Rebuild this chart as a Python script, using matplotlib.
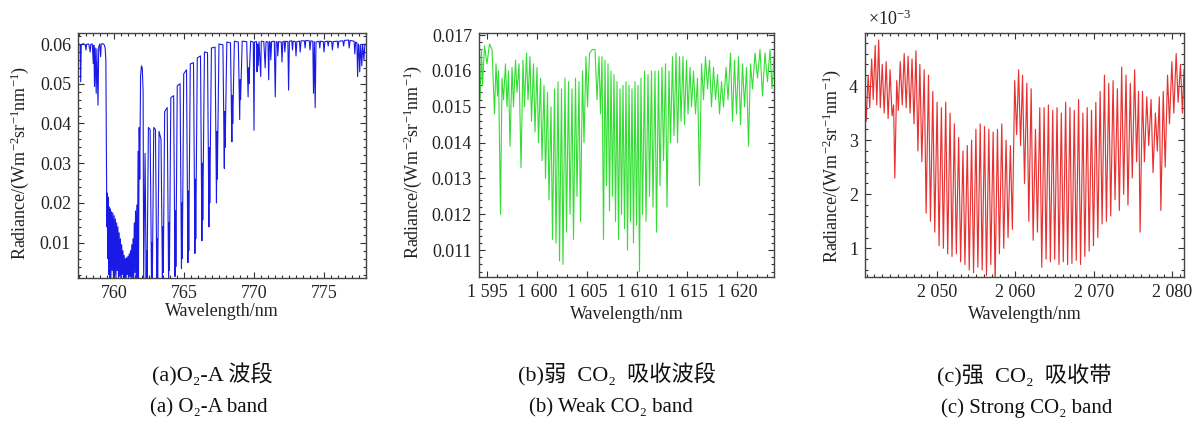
import matplotlib
matplotlib.use("Agg")
import matplotlib.pyplot as plt
from matplotlib.ticker import FixedLocator, MultipleLocator

plt.rcParams['font.family'] = ['Liberation Serif', 'Noto Sans CJK SC', 'DejaVu Sans']
plt.rcParams['mathtext.fontset'] = 'custom'
plt.rcParams['mathtext.rm'] = 'Liberation Serif'
plt.rcParams['mathtext.it'] = 'Liberation Serif:italic'
plt.rcParams['mathtext.bf'] = 'Liberation Serif:bold'
plt.rcParams['axes.unicode_minus'] = False

# ---------------- O2-A band (757-778 nm) ----------------
wl_o2 = [
    757.43, 757.50, 757.58, 757.62, 757.66, 757.80, 757.95, 758.00, 758.04, 758.20,
    758.30, 758.34, 758.45, 758.52, 758.56, 758.61, 758.66, 758.73, 758.78, 758.86,
    758.91, 758.98, 759.05, 759.09, 759.20, 759.30, 759.37, 759.42,
    759.46, 759.49, 759.52, 759.55, 759.58, 759.62, 759.66, 759.70,
    759.74, 759.78, 759.83, 759.87, 759.92, 759.96, 760.01, 760.05, 760.10, 760.14,
    760.19, 760.23, 760.28, 760.32, 760.37, 760.41, 760.46, 760.50, 760.55, 760.59,
    760.64, 760.68, 760.73, 760.77, 760.82, 760.86, 760.91, 760.95, 761.00, 761.04,
    761.09, 761.13, 761.18, 761.22, 761.27, 761.31, 761.36, 761.40, 761.45, 761.49,
    761.54, 761.58, 761.63, 761.67, 761.72, 761.75, 761.80, 761.84, 761.90, 761.96,
    762.02, 762.08, 762.12,
    762.22, 762.30, 762.33, 762.36, 762.46, 762.58, 762.68, 762.71, 762.74,
    762.84, 762.96, 763.06, 763.09, 763.12, 763.22, 763.36, 763.46, 763.49, 763.52,
    763.62, 763.80, 763.90, 763.93, 763.96, 764.06, 764.26, 764.36, 764.39, 764.42,
    764.52, 764.72, 764.82, 764.85, 764.88, 764.98, 765.18, 765.28, 765.31, 765.34,
    765.45, 765.68, 765.78, 765.81, 765.84, 765.95, 766.18, 766.28, 766.31, 766.34,
    766.46, 766.68, 766.78, 766.81, 766.84, 766.96, 767.22, 767.32, 767.35, 767.38,
    767.50, 767.78, 767.88, 767.91, 767.94, 768.06, 768.32, 768.42, 768.45, 768.48,
    768.60, 768.88, 768.98, 769.01, 769.04, 769.16, 769.48, 769.58, 769.61, 769.64,
    769.76, 769.95, 770.00, 770.04, 770.18, 770.22, 770.26, 770.30, 770.36, 770.48,
    770.52, 770.70, 770.80, 770.86, 771.00, 771.05, 771.10, 771.16, 771.20, 771.26,
    771.45, 771.52, 771.58, 771.66, 771.70, 771.76, 771.95, 772.00, 772.06, 772.16,
    772.20, 772.26, 772.42, 772.47, 772.53, 772.70, 772.75, 772.80, 772.95, 773.00,
    773.06, 773.25, 773.30, 773.36, 773.60, 773.65, 773.70, 773.95, 774.00, 774.06,
    774.20, 774.25, 774.31, 774.37, 774.43, 774.65, 774.70, 774.75, 774.95, 775.00,
    775.06, 775.25, 775.30, 775.35, 775.55, 775.60, 775.66, 775.95, 776.00, 776.06,
    776.35, 776.40, 776.46, 776.75, 776.80, 776.86, 777.15, 777.20, 777.26, 777.35,
    777.40, 777.46, 777.50, 777.55, 777.62, 777.70, 777.76, 777.85, 777.92, 778.00,
]
rad_o2 = [
    0.0598, 0.0600, 0.0598, 0.0505, 0.0597, 0.0601, 0.0598, 0.0585, 0.0599, 0.0600,
    0.0580, 0.0599, 0.0600, 0.0551, 0.0597, 0.0493, 0.0590, 0.0476, 0.0588, 0.0446,
    0.0592, 0.0600, 0.0568, 0.0600, 0.0601, 0.0598, 0.0590, 0.0560,
    0.0300, 0.0140, 0.0225, 0.0060, 0.0215, 0.0020, 0.0190, 0.0005,
    0.0185, 0.0010, 0.0178, 0.0030, 0.0175, 0.0005, 0.0168, 0.0020, 0.0160, 0.0005,
    0.0150, 0.0030, 0.0140, 0.0005, 0.0125, 0.0015, 0.0110, 0.0005, 0.0095, 0.0020,
    0.0080, 0.0005, 0.0068, 0.0010, 0.0060, 0.0005, 0.0062, 0.0020, 0.0066, 0.0005,
    0.0072, 0.0015, 0.0080, 0.0005, 0.0095, 0.0010, 0.0110, 0.0005, 0.0150, 0.0025,
    0.0180, 0.0005, 0.0195, 0.0010, 0.0330, 0.0005, 0.0390, 0.0260, 0.0520, 0.0545,
    0.0540, 0.0480, 0.0005,
    0.0325, 0.0005, 0.0080, 0.0008, 0.0390, 0.0385, 0.0005, 0.0100, 0.0008,
    0.0390, 0.0385, 0.0005, 0.0110, 0.0010, 0.0380, 0.0360, 0.0005, 0.0140, 0.0025,
    0.0430, 0.0440, 0.0005, 0.0150, 0.0030, 0.0465, 0.0470, 0.0015, 0.0180, 0.0040,
    0.0495, 0.0500, 0.0035, 0.0200, 0.0060, 0.0525, 0.0535, 0.0050, 0.0230, 0.0080,
    0.0550, 0.0553, 0.0073, 0.0260, 0.0110, 0.0565, 0.0570, 0.0105, 0.0300, 0.0157,
    0.0580, 0.0578, 0.0140, 0.0340, 0.0200, 0.0590, 0.0592, 0.0200, 0.0380, 0.0260,
    0.0600, 0.0598, 0.0287, 0.0430, 0.0340, 0.0605, 0.0603, 0.0354, 0.0470, 0.0400,
    0.0607, 0.0605, 0.0410, 0.0510, 0.0460, 0.0607, 0.0606, 0.0467, 0.0540, 0.0500,
    0.0607, 0.0605, 0.0383, 0.0605, 0.0606, 0.0530, 0.0600, 0.0545, 0.0606, 0.0518,
    0.0607, 0.0606, 0.0540, 0.0606, 0.0605, 0.0510, 0.0606, 0.0604, 0.0560, 0.0606,
    0.0607, 0.0467, 0.0606, 0.0605, 0.0570, 0.0606, 0.0605, 0.0555, 0.0606, 0.0607,
    0.0580, 0.0607, 0.0606, 0.0484, 0.0607, 0.0608, 0.0585, 0.0607, 0.0606, 0.0570,
    0.0606, 0.0607, 0.0580, 0.0608, 0.0608, 0.0590, 0.0609, 0.0608, 0.0585, 0.0608,
    0.0607, 0.0476, 0.0606, 0.0440, 0.0605, 0.0607, 0.0590, 0.0607, 0.0606, 0.0580,
    0.0606, 0.0607, 0.0595, 0.0607, 0.0606, 0.0585, 0.0606, 0.0607, 0.0590, 0.0607,
    0.0608, 0.0595, 0.0609, 0.0610, 0.0590, 0.0609, 0.0607, 0.0575, 0.0605, 0.0603,
    0.0518, 0.0600, 0.0596, 0.0530, 0.0598, 0.0545, 0.0599, 0.0560, 0.0600, 0.0598,
]

# ---------------- weak CO2 band (1594-1624 nm) ----------------
wl_wco2 = [
    1594.15, 1594.25, 1594.40, 1594.50, 1594.70, 1594.95, 1595.20, 1595.45, 1595.70, 1595.85,
    1596.00, 1596.10, 1596.30, 1596.45, 1596.60, 1596.80, 1596.95, 1597.10, 1597.25, 1597.45,
    1597.60, 1597.80, 1597.95, 1598.15, 1598.35, 1598.55, 1598.70, 1598.90, 1599.05, 1599.25,
    1599.40, 1599.60, 1599.75, 1599.95, 1600.10, 1600.30, 1600.45, 1600.65, 1600.80, 1601.00,
    1601.15, 1601.35, 1601.50, 1601.70, 1601.85, 1602.05, 1602.20, 1602.40, 1602.55, 1602.75,
    1602.90, 1603.10, 1603.25, 1603.45, 1603.60, 1603.80, 1603.95, 1604.15, 1604.30, 1604.50,
    1604.65, 1604.85, 1605.00, 1605.20, 1605.50, 1605.75, 1605.95, 1606.15, 1606.30, 1606.45,
    1606.60, 1606.75, 1606.90, 1607.05, 1607.20, 1607.35, 1607.50, 1607.65, 1607.80, 1607.95,
    1608.10, 1608.25, 1608.40, 1608.55, 1608.70, 1608.85, 1609.00, 1609.15, 1609.30, 1609.45,
    1609.60, 1609.75, 1609.90, 1610.05, 1610.20, 1610.35, 1610.50, 1610.70, 1610.85, 1611.05,
    1611.20, 1611.40, 1611.55, 1611.75, 1611.90, 1612.10, 1612.25, 1612.45, 1612.60, 1612.80,
    1612.95, 1613.15, 1613.30, 1613.50, 1613.65, 1613.85, 1614.00, 1614.20, 1614.35, 1614.55,
    1614.70, 1614.90, 1615.05, 1615.25, 1615.40, 1615.60, 1615.80, 1616.00, 1616.20, 1616.40,
    1616.60, 1616.80, 1617.00, 1617.20, 1617.40, 1617.60, 1617.80, 1618.00, 1618.20, 1618.40,
    1618.60, 1618.85, 1619.05, 1619.30, 1619.50, 1619.70, 1619.90, 1620.10, 1620.30, 1620.50,
    1620.70, 1620.90, 1621.10, 1621.30, 1621.50, 1621.75, 1622.00, 1622.25, 1622.50, 1622.75,
    1623.00, 1623.25, 1623.45, 1623.65,
]
rad_wco2 = [
    0.0158, 0.0152, 0.0166, 0.0156, 0.0167, 0.0162, 0.01675, 0.0166, 0.0148, 0.0162,
    0.0153, 0.0160, 0.0120, 0.0158, 0.0152, 0.0162, 0.0150, 0.0160, 0.0139, 0.0161,
    0.0150, 0.0163, 0.0154, 0.0162, 0.0133, 0.0163, 0.0150, 0.0165, 0.0152, 0.0164,
    0.0146, 0.0162, 0.0143, 0.0161, 0.0140, 0.0158, 0.0135, 0.0156, 0.0130, 0.0154,
    0.0124, 0.0150, 0.0113, 0.0155, 0.0112, 0.0157, 0.0107, 0.0155, 0.0106, 0.0158,
    0.0115, 0.0157, 0.0120, 0.0155, 0.0113, 0.0158, 0.0125, 0.0157, 0.0118, 0.0160,
    0.0140, 0.0164, 0.0150, 0.0165, 0.0166, 0.0166, 0.0152, 0.0164, 0.0148, 0.0164,
    0.0113, 0.0163, 0.0128, 0.0162, 0.0121, 0.0160, 0.0125, 0.0159, 0.0118, 0.0157,
    0.0113, 0.0155, 0.0120, 0.0156, 0.0116, 0.0157, 0.0110, 0.0156, 0.0118, 0.0155,
    0.0112, 0.0157, 0.0117, 0.0156, 0.0104, 0.0158, 0.0120, 0.0160, 0.0118, 0.0159,
    0.0125, 0.0160, 0.0122, 0.0160, 0.0115, 0.0160, 0.0128, 0.0161, 0.0135, 0.0162,
    0.0122, 0.0160, 0.0140, 0.0164, 0.0142, 0.0165, 0.0140, 0.0164, 0.0146, 0.0164,
    0.0145, 0.0163, 0.0148, 0.0161, 0.0150, 0.0160, 0.0148, 0.0158, 0.0128, 0.0162,
    0.0152, 0.0164, 0.0155, 0.0163, 0.0150, 0.0161, 0.0152, 0.0159, 0.0148, 0.0157,
    0.0150, 0.0161, 0.0152, 0.0165, 0.0146, 0.0163, 0.0148, 0.0164, 0.0145, 0.0162,
    0.0150, 0.0161, 0.0139, 0.0162, 0.0155, 0.0165, 0.0158, 0.0166, 0.0153, 0.0165,
    0.0157, 0.0166, 0.0155, 0.0164,
]

# ---------------- strong CO2 band (2040-2082 nm), radiance in 1e-3 units ----------------
wl_sco2 = [
    2040.80, 2040.95, 2041.20, 2041.40, 2041.65, 2041.85, 2042.10, 2042.30, 2042.55, 2042.75,
    2043.00, 2043.25, 2043.50, 2043.75, 2044.00, 2044.25, 2044.45, 2044.60, 2044.85, 2045.05,
    2045.30, 2045.55, 2045.80, 2046.05, 2046.30, 2046.55, 2046.80, 2047.05, 2047.30, 2047.55,
    2047.80, 2048.05, 2048.35, 2048.60, 2048.90, 2049.15, 2049.45, 2049.70, 2050.00, 2050.25,
    2050.55, 2050.80, 2051.10, 2051.35, 2051.65, 2051.90, 2052.20, 2052.45, 2052.75, 2053.00,
    2053.30, 2053.55, 2053.85, 2054.10, 2054.40, 2054.65, 2054.95, 2055.20, 2055.50, 2055.75,
    2056.05, 2056.30, 2056.60, 2056.85, 2057.15, 2057.40, 2057.70, 2057.95, 2058.25, 2058.50,
    2058.80, 2059.05, 2059.35, 2059.60, 2059.90, 2060.15, 2060.40, 2060.65, 2060.90, 2061.15,
    2061.45, 2061.70, 2062.00, 2062.25, 2062.55, 2062.80, 2063.10, 2063.35, 2063.65, 2063.90,
    2064.20, 2064.45, 2064.75, 2065.00, 2065.30, 2065.55, 2065.85, 2066.10, 2066.40, 2066.65,
    2066.95, 2067.20, 2067.50, 2067.75, 2068.05, 2068.30, 2068.60, 2068.85, 2069.15, 2069.40,
    2069.70, 2069.95, 2070.25, 2070.50, 2070.80, 2071.05, 2071.35, 2071.60, 2071.90, 2072.15,
    2072.45, 2072.70, 2073.00, 2073.25, 2073.55, 2073.80, 2074.10, 2074.35, 2074.65, 2074.90,
    2075.20, 2075.45, 2075.70, 2075.90, 2076.20, 2076.45, 2076.75, 2077.00, 2077.30, 2077.55,
    2077.85, 2078.10, 2078.35, 2078.55, 2078.85, 2079.10, 2079.40, 2079.65, 2079.95, 2080.20,
    2080.50, 2080.75, 2081.05, 2081.30, 2081.50,
]
rad_sco2 = [
    3.90, 3.35, 4.20, 3.60, 4.50, 3.75, 4.75, 3.65, 4.85, 3.60,
    4.40, 3.50, 4.45, 3.40, 4.30, 3.45, 3.65, 2.30, 4.10, 3.55,
    4.45, 3.65, 4.60, 3.60, 4.55, 3.50, 4.50, 3.30, 4.65, 2.80,
    4.40, 2.60, 4.30, 1.65, 4.20, 1.50, 3.90, 1.30, 3.70, 1.05,
    3.60, 1.00, 3.70, 0.90, 3.50, 0.85, 3.30, 0.90, 3.05, 0.75,
    2.80, 0.70, 2.90, 0.60, 3.00, 0.55, 3.20, 0.65, 3.30, 0.60,
    3.25, 0.50, 3.20, 0.70, 3.15, 0.35, 3.20, 0.90, 3.30, 1.00,
    3.00, 1.20, 2.90, 1.35, 4.10, 3.10, 4.30, 2.90, 4.20, 2.20,
    4.05, 1.50, 3.95, 1.15, 3.20, 1.30, 3.60, 0.65, 3.60, 0.80,
    3.65, 0.75, 3.55, 0.80, 3.60, 0.70, 3.50, 0.75, 3.70, 0.70,
    3.60, 0.72, 3.55, 0.78, 3.75, 0.70, 3.50, 0.85, 3.60, 0.95,
    3.55, 1.05, 3.70, 1.20, 3.90, 1.45, 4.20, 1.50, 4.05, 1.60,
    4.10, 1.90, 3.95, 1.70, 4.35, 2.00, 4.20, 1.80, 4.05, 2.30,
    4.30, 2.60, 3.90, 1.30, 3.90, 2.60, 3.80, 2.90, 3.75, 2.40,
    3.50, 2.80, 3.80, 1.70, 3.90, 2.50, 4.20, 3.30, 4.45, 3.50,
    4.60, 3.70, 4.40, 3.50, 4.30,
]

ticks_o2 = [760, 765, 770, 775]
ticks_wco2 = [1595, 1600, 1605, 1610, 1615, 1620]
ticks_sco2 = [2050, 2060, 2070, 2080]
yticks_o2 = [0.01, 0.02, 0.03, 0.04, 0.05, 0.06]
yticks_wco2 = [0.011, 0.012, 0.013, 0.014, 0.015, 0.016, 0.017]
yticks_sco2 = [1, 2, 3, 4]

# en spaces around the formula in the Chinese captions
captions_cn = ['(a)O\u2082-A 波段', '(b)弱\u2002CO\u2082\u2002吸收波段',
               '(c)强\u2002CO\u2082\u2002吸收带']
captions_en = ['(a) O\u2082-A band', '(b) Weak CO\u2082 band', '(c) Strong CO\u2082 band']

W, H = 1196, 421
fig = plt.figure(figsize=(W / 100, H / 100), dpi=100)


def box(l, t, r, b):
    return [l / W, 1 - b / H, (r - l) / W, (b - t) / H]


ax_a = fig.add_axes(box(78, 33, 366, 278))
ax_b = fig.add_axes(box(479, 33, 774, 277))
ax_c = fig.add_axes(box(865, 33, 1184, 277))

ylab = 'Radiance/(Wm$^{-2}$sr$^{-1}$nm$^{-1}$)'
FS = 13


def thousands(v):
    s = f'{int(v)}'
    return s[:-3] + ' ' + s[-3:] if len(s) > 3 else s


def style(ax, xt, xl, yt, ylabels, xminor, yminor, xlim, ylim):
    ax.set_xlim(*xlim)
    ax.set_ylim(*ylim)
    ax.xaxis.set_major_locator(FixedLocator(xt))
    ax.set_xticklabels(xl)
    ax.yaxis.set_major_locator(FixedLocator(yt))
    ax.set_yticklabels(ylabels)
    ax.xaxis.set_minor_locator(MultipleLocator(xminor))
    ax.yaxis.set_minor_locator(MultipleLocator(yminor))
    ax.tick_params(which='both', direction='in', top=True, right=True,
                   colors='#333333', labelcolor='#222222', labelsize=FS, width=0.8)
    ax.tick_params(which='major', length=4, pad=5)
    ax.tick_params(which='minor', length=2)
    for sp in ax.spines.values():
        sp.set_color('#444444')
        sp.set_linewidth(1.0)
    ax.set_xlabel('Wavelength/nm', fontsize=FS, color='#222222')
    ax.set_ylabel(ylab, fontsize=FS, color='#222222')


ax_a.plot(wl_o2, rad_o2, color='#1a1ae6', lw=0.8)
style(ax_a, ticks_o2, [str(t) for t in ticks_o2], yticks_o2,
      [f'{v:.2f}' for v in yticks_o2], 0.5, 0.002,
      (757.43, 778.0), (0.00112, 0.06277))
ax_a.xaxis.set_label_coords(0.5, (278 - 303) / 245)
ax_a.yaxis.set_label_coords((31 - 78) / 288, 0.47)

ax_b.plot(wl_wco2, rad_wco2, color='#33dd33', lw=0.8)
style(ax_b, ticks_wco2, [thousands(t) for t in ticks_wco2], yticks_wco2,
      [f'{v:.3f}' for v in yticks_wco2], 1, 0.0002,
      (1594.15, 1623.65), (0.01025, 0.01706))
ax_b.xaxis.set_label_coords(0.5, (277 - 306) / 244)
ax_b.yaxis.set_label_coords((424 - 479) / 295, 0.47)

ax_c.plot(wl_sco2, rad_sco2, color='#e83232', lw=0.85)
style(ax_c, ticks_sco2, [thousands(t) for t in ticks_sco2], yticks_sco2,
      [str(v) for v in yticks_sco2], 1, 0.2,
      (2040.8, 2081.5), (0.47, 4.98))
ax_c.xaxis.set_label_coords(0.5, (277 - 306) / 244)
ax_c.yaxis.set_label_coords((843 - 865) / 319, 0.455)
fig.text(868 / W, 1 - 29 / H, r'$\times$10$^{-3}$', fontsize=FS, color='#222222',
         ha='left', va='bottom')

for xc, txt in zip([212, 617, 1024], captions_cn):
    fig.text(xc / W, 1 - 375 / H, txt, ha='center', va='center', fontsize=16, color='#111111')
for xc, txt in zip([209, 611, 1027], captions_en):
    fig.text(xc / W, 1 - 408 / H, txt, ha='center', va='center', fontsize=15, color='#111111')

fig.savefig('out.png', dpi=100)
